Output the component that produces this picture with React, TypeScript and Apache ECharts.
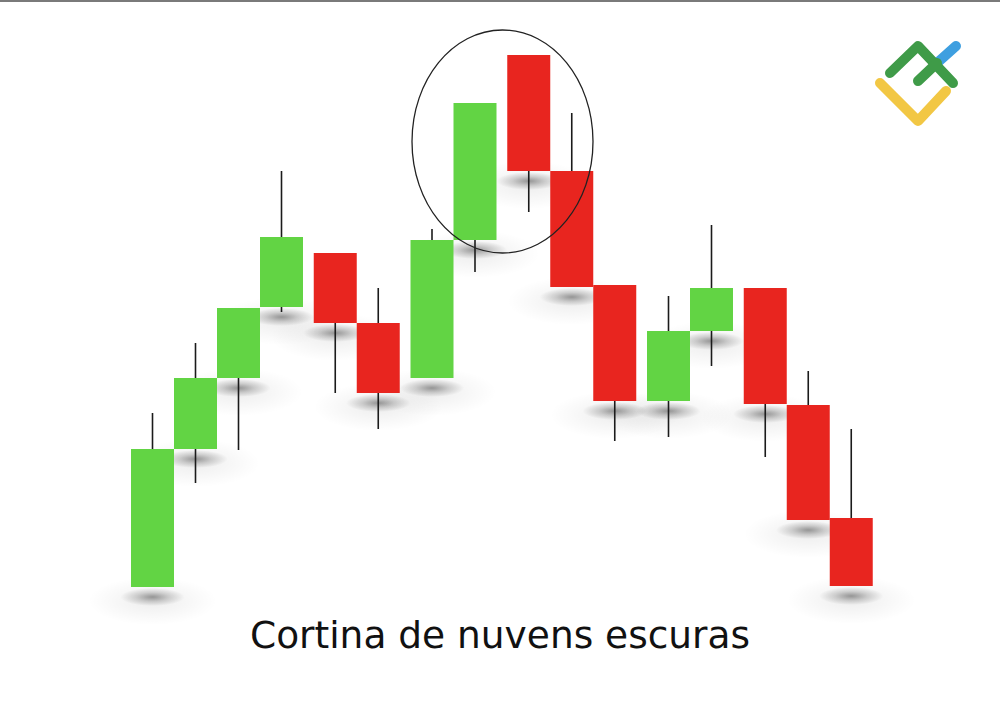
import React, { useEffect, useRef } from "react";
import * as echarts from "echarts";

// time position of each candle (in candle widths)
const positions = [0, 1, 2, 3, 4.25, 5.25, 6.5, 7.5, 8.75, 9.75, 10.75, 12, 13, 14.25, 15.25, 16.25];
const opens = [13, 151, 222, 293, 347, 277, 222, 360, 545, 429, 315, 199, 269, 312, 195, 82];
const closes = [151, 222, 292, 363, 277, 207, 360, 497, 429, 313, 199, 269, 312, 196, 80, 14];
const lows = [13, 117, 150, 288, 207, 171, 222, 328, 388, 313, 159, 163, 234, 143, 80, 14];
const highs = [187, 257, 292, 429, 347, 312, 371, 497, 545, 487, 315, 304, 375, 312, 229, 171];
const titleText = "Cortina de nuvens escuras";

const UP = "#62D444";
const DOWN = "#E8251F";

export default function App() {
  const ref = useRef<HTMLDivElement>(null);
  useEffect(() => {
    if (!ref.current) return;
    const chart = echarts.init(ref.current, undefined, { renderer: "svg" });
    const data = positions.map((p, i) => [p, opens[i], closes[i], lows[i], highs[i]]);

    const shadowItem = (params: any, api: any) => {
      const x = api.value(0);
      const bottom = Math.min(api.value(1), api.value(2));
      const p = api.coord([x, bottom]);
      const w = api.size([1, 0])[0];
      return {
        type: "group",
        children: [
          {
            type: "ellipse",
            shape: { cx: p[0], cy: p[1] + 14, rx: w * 1.5, ry: 24 },
            style: {
              fill: {
                type: "radial", x: 0.5, y: 0.5, r: 0.5,
                colorStops: [
                  { offset: 0, color: "rgba(0,0,0,0.07)" },
                  { offset: 1, color: "rgba(0,0,0,0)" },
                ],
              },
            },
          },
          {
            type: "ellipse",
            shape: { cx: p[0], cy: p[1] + 10, rx: w * 0.75, ry: 9 },
            style: {
              fill: {
                type: "radial", x: 0.5, y: 0.5, r: 0.5,
                colorStops: [
                  { offset: 0, color: "rgba(0,0,0,0.38)" },
                  { offset: 0.5, color: "rgba(0,0,0,0.16)" },
                  { offset: 1, color: "rgba(0,0,0,0)" },
                ],
              },
            },
          },
        ],
      };
    };

    const candleItem = (params: any, api: any) => {
      const x = api.value(0);
      const o = api.value(1);
      const c = api.value(2);
      const lo = api.value(3);
      const hi = api.value(4);
      const po = api.coord([x, o]);
      const pc = api.coord([x, c]);
      const pl = api.coord([x, lo]);
      const ph = api.coord([x, hi]);
      const w = api.size([1, 0])[0];
      const top = Math.min(po[1], pc[1]);
      const h = Math.abs(po[1] - pc[1]);
      return {
        type: "group",
        children: [
          {
            type: "line",
            shape: { x1: po[0], y1: ph[1], x2: po[0], y2: pl[1] },
            style: { stroke: "#1b1b1b", lineWidth: 1.6 },
          },
          {
            type: "rect",
            shape: { x: po[0] - w / 2, y: top, width: w, height: h },
            style: { fill: c >= o ? UP : DOWN },
          },
        ],
      };
    };

    const logoG = "#3F9B48";
    const logoB = "#3E9FE0";
    const logoY = "#F2C744";
    const lw = 10;

    chart.setOption({
      animation: false,
      backgroundColor: "#ffffff",
      grid: { left: 109.5, right: 30.5, top: 0, bottom: 107 },
      xAxis: { type: "value", min: -1, max: 19, show: false },
      yAxis: { type: "value", min: 0, max: 600, show: false },
      series: [
        { type: "custom", renderItem: shadowItem, data, z: 1, silent: true, clip: false },
        { type: "custom", renderItem: candleItem, data, z: 2, clip: false },
      ],
      graphic: [
        {
          type: "line",
          shape: { x1: 0, y1: 1, x2: 1000, y2: 1 },
          style: { stroke: "#7a7a7a", lineWidth: 2 },
          z: 10,
        },
        {
          type: "ellipse",
          shape: { cx: 502.5, cy: 141.5, rx: 90.5, ry: 111.5 },
          style: { fill: "none", stroke: "#222222", lineWidth: 1.3 },
          z: 10,
        },
        {
          type: "text",
          x: 500,
          y: 616,
          style: {
            text: titleText,
            fontFamily: "DejaVu Sans",
            fontSize: 37.5,
            fill: "#111111",
            align: "center",
            verticalAlign: "top",
          },
          z: 10,
        },
        {
          type: "polyline",
          shape: { points: [[880, 83], [918, 121], [946, 91]] },
          style: { stroke: logoY, lineWidth: lw, lineCap: "round", lineJoin: "round", fill: "none" },
          z: 10,
        },
        {
          type: "line",
          shape: { x1: 937, y1: 63, x2: 956, y2: 46 },
          style: { stroke: logoB, lineWidth: lw, lineCap: "round" },
          z: 10,
        },
        {
          type: "polyline",
          shape: { points: [[890, 73], [918, 46], [953, 83]] },
          style: { stroke: logoG, lineWidth: lw, lineCap: "round", lineJoin: "round", fill: "none" },
          z: 11,
        },
        {
          type: "line",
          shape: { x1: 918, y1: 81, x2: 937, y2: 63 },
          style: { stroke: logoG, lineWidth: lw, lineCap: "round" },
          z: 11,
        },
      ],
    });
    return () => chart.dispose();
  }, []);
  return (
    <div
      ref={ref}
      style={{ position: "absolute", left: 0, top: 0, width: 1000, height: 707, background: "#fff" }}
    />
  );
}
